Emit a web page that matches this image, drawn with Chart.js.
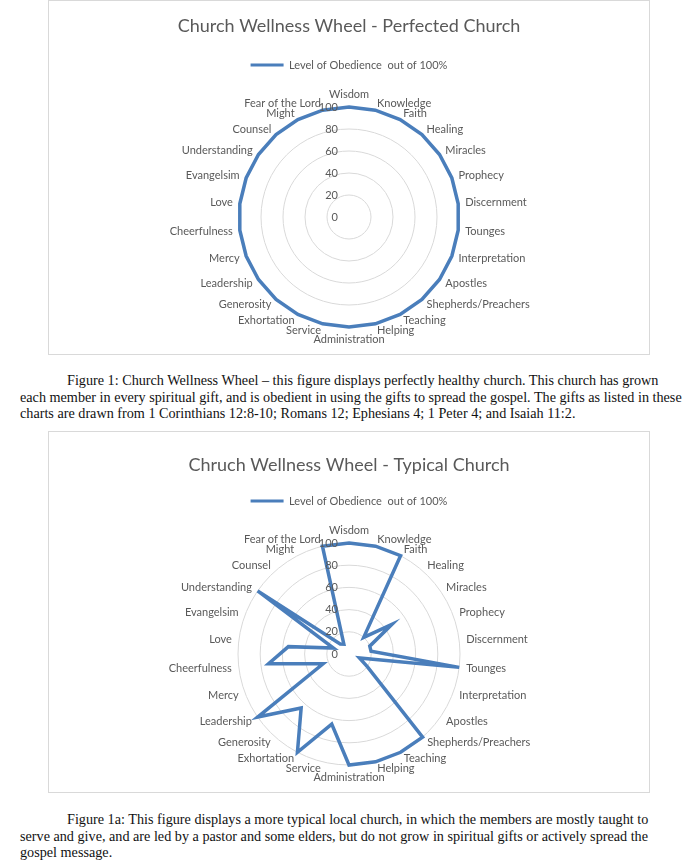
<!DOCTYPE html>
<html>
<head>
<meta charset="utf-8">
<title>Church Wellness Wheel</title>
<script src="https://cdn.jsdelivr.net/npm/chart.js@4.4.1/dist/chart.umd.min.js"></script>
<style>
  html, body { margin: 0; padding: 0; background: #fff; }
  body { position: relative; width: 698px; height: 866px; overflow: hidden; }
  .chart-box { position: absolute; left: 48px; width: 600px; border: 1px solid #d9d9d9; }
  .chart-box canvas { display: block; }
  #box-perfected { top: 0; height: 353px; }
  #box-typical { top: 431px; height: 360px; }
  .caption { position: absolute; left: 20px; font-family: "Liberation Serif", "Times New Roman", serif; font-size: 14.2px; line-height: 16.5px; color: #111; white-space: nowrap; }
  .caption .first { padding-left: 47px; }
</style>
</head>
<body>
<div class="chart-box" id="box-perfected"><canvas id="perfectedChart" width="600" height="353"></canvas></div>
<div class="caption" style="top:372px">
  <div class="first">Figure 1: Church Wellness Wheel – this figure displays perfectly healthy church. This church has grown</div>
  <div>each member in every spiritual gift, and is obedient in using the gifts to spread the gospel. The gifts as listed in these</div>
  <div>charts are drawn from 1 Corinthians 12:8-10; Romans 12; Ephesians 4; 1 Peter 4; and Isaiah 11:2.</div>
</div>
<div class="chart-box" id="box-typical"><canvas id="typicalChart" width="600" height="360"></canvas></div>
<div class="caption" style="top:811px">
  <div class="first">Figure 1a: This figure displays a more typical local church, in which the members are mostly taught to</div>
  <div>serve and give, and are led by a pastor and some elders, but do not grow in spiritual gifts or actively spread the</div>
  <div>gospel message.</div>
</div>
<script>
// gifts, clockwise from the top
const gifts = ['Wisdom', 'Knowledge', 'Faith', 'Healing', 'Miracles', 'Prophecy', 'Discernment', 'Tounges',
    'Interpretation', 'Apostles', 'Shepherds/Preachers', 'Teaching', 'Helping', 'Administration', 'Service',
    'Exhortation', 'Generosity', 'Leadership', 'Mercy', 'Cheerfulness', 'Love', 'Evangelsim', 'Understanding',
    'Counsel', 'Might', 'Fear of the Lord'];
const perfectedValues = [100, 100, 100, 100, 100, 100, 100, 100, 100, 100, 100, 100, 100,
    100, 100, 100, 100, 100, 100, 100, 100, 100, 100, 100, 100, 100];
const typicalValues = [100, 100, 100, 20, 47, 20, 20, 100, 10, 20, 100, 100, 100,
    100, 65, 100, 65, 100, 25, 73, 55, 15, 100, 12, 10, 100];
const tickValues = [0, 20, 40, 60, 80, 100];
const seriesName = 'Level of Obedience  out of 100%';

const lineColor = '#4a7ebb';
const textColor = '#595959';
const gridColor = '#d9d9d9';

// Excel puts the value labels just left of the vertical axis
const tickLabelPlugin = {
    id: 'tickLabels',
    afterDatasetsDraw(chart) {
        const scale = chart.scales.r;
        const ctx = chart.ctx;
        ctx.save();
        ctx.font = '11px Lato';
        ctx.fillStyle = textColor;
        ctx.textAlign = 'right';
        ctx.textBaseline = 'middle';
        scale.ticks.forEach(tick => {
            const y = scale.yCenter - scale.getDistanceFromCenterForValue(tick.value);
            ctx.fillText(String(tick.value), scale.xCenter - 11, y);
        });
        ctx.restore();
    }
};

// category names sit vertically centred on their spoke, like Excel does it
const giftLabelPlugin = {
    id: 'giftLabels',
    afterDraw(chart) {
        const scale = chart.scales.r;
        const ctx = chart.ctx;
        ctx.save();
        ctx.font = '11px Lato';
        ctx.fillStyle = textColor;
        chart.data.labels.forEach((label, i) => {
            const angle = scale.getIndexAngle(i);
            const pos = scale.getPointPosition(i, scale.drawingArea + 7);
            const s = Math.sin(angle);
            if (Math.abs(s) < 0.01) {
                ctx.textAlign = 'center';
                ctx.textBaseline = Math.cos(angle) > 0 ? 'bottom' : 'top';
            } else {
                ctx.textAlign = s > 0 ? 'left' : 'right';
                ctx.textBaseline = 'middle';
            }
            ctx.fillText(label, pos.x, pos.y);
        });
        ctx.restore();
    }
};

function buildChart(canvasId, titleText, values, box) {
    return new Chart(document.getElementById(canvasId), {
        type: 'radar',
        data: {
            labels: gifts,
            datasets: [{
                label: seriesName,
                data: values,
                borderColor: lineColor,
                backgroundColor: 'rgba(0,0,0,0)',
                borderWidth: 3.5,
                pointRadius: 0,
                pointBorderWidth: 3,
                pointBorderColor: lineColor,
                fill: false
            }]
        },
        options: {
            responsive: false,
            animation: false,
            layout: { padding: { bottom: box.bottom } },
            plugins: {
                title: {
                    display: true,
                    text: titleText,
                    color: textColor,
                    font: { family: 'Lato', size: 18, weight: 'normal' },
                    padding: { top: box.titleTop, bottom: box.titleBottom }
                },
                legend: {
                    labels: {
                        color: textColor,
                        font: { family: 'Lato', size: 11 },
                        usePointStyle: true,
                        pointStyle: 'line',
                        pointStyleWidth: 33,
                        padding: 10
                    }
                },
                // empty spacer between the legend and the wheel
                subtitle: {
                    display: true,
                    text: '',
                    weight: 500,
                    font: { size: 1 },
                    padding: { top: box.gap, bottom: 0 }
                },
                tooltip: { enabled: false }
            },
            scales: {
                r: {
                    min: 0,
                    max: 100,
                    afterBuildTicks: scale => {
                        scale.ticks = tickValues.map(v => ({ value: v }));
                    },
                    ticks: { display: false },
                    grid: { circular: true, color: gridColor, lineWidth: 1 },
                    angleLines: { display: false },
                    pointLabels: { display: false }
                }
            }
        },
        plugins: [tickLabelPlugin, giftLabelPlugin]
    });
}

buildChart('perfectedChart', 'Church Wellness Wheel - Perfected Church', perfectedValues,
    { titleTop: 14, titleBottom: 13, gap: 26, bottom: 26 });
buildChart('typicalChart', 'Chruch Wellness Wheel - Typical Church', typicalValues,
    { titleTop: 22, titleBottom: 10, gap: 26, bottom: 26 });
</script>
</body>
</html>
